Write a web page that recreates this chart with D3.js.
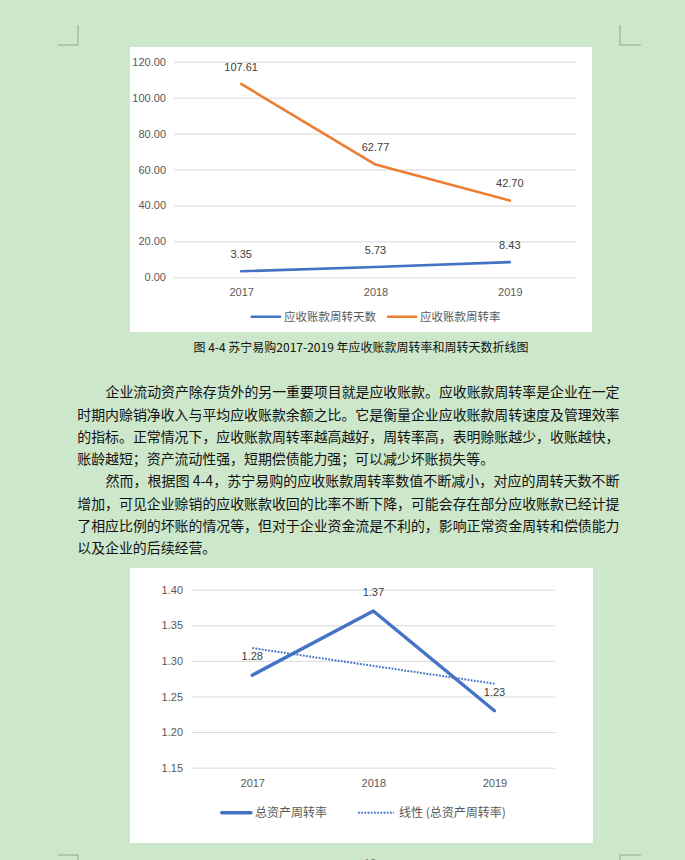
<!DOCTYPE html>
<html>
<head>
<meta charset="utf-8">
<script src="https://cdn.jsdelivr.net/npm/d3@7"></script>
<style>
  html, body { margin: 0; padding: 0; background: #CDE7CB; }
  svg { display: block; }
</style>
</head>
<body>
<svg id="page" width="685" height="860"></svg>
<script>
// ---------- data ----------
const years = ["2017", "2018", "2019"];
const daysValues = [3.35, 5.73, 8.43];          // 应收账款周转天数
const rateValues = [107.61, 62.77, 42.70];      // 应收账款周转率
const yTicks1 = [0, 20, 40, 60, 80, 100, 120];
const seriesNames1 = ["应收账款周转天数", "应收账款周转率"];

const assetValues = [1.28, 1.37, 1.23];          // 总资产周转率
const trendValues = [1.318, 1.293, 1.268];       // 线性 (总资产周转率)
const yTicks2 = [1.15, 1.20, 1.25, 1.30, 1.35, 1.40];
const seriesNames2 = ["总资产周转率", "线性 (总资产周转率)"];

const captionText = "图 4-4 苏宁易购2017-2019 年应收账款周转率和周转天数折线图";
const paragraphLines = [
  {t: "企业流动资产除存货外的另一重要项目就是应收账款。应收账款周转率是企业在一定", indent: true, justify: true},
  {t: "时期内赊销净收入与平均应收账款余额之比。它是衡量企业应收账款周转速度及管理效率", indent: false, justify: true},
  {t: "的指标。正常情况下，应收账款周转率越高越好，周转率高，表明赊账越少，收账越快，", indent: false, justify: true},
  {t: "账龄越短；资产流动性强，短期偿债能力强；可以减少坏账损失等。", indent: false, justify: false},
  {t: "然而，根据图 4-4，苏宁易购的应收账款周转率数值不断减小，对应的周转天数不断", indent: true, justify: true},
  {t: "增加，可见企业赊销的应收账款收回的比率不断下降，可能会存在部分应收账款已经计提", indent: false, justify: true},
  {t: "了相应比例的坏账的情况等，但对于企业资金流是不利的，影响正常资金周转和偿债能力", indent: false, justify: true},
  {t: "以及企业的后续经营。", indent: false, justify: false}
];

// ---------- page ----------
const svg = d3.select("#page");
const FONT_NUM = "'Liberation Sans', 'Noto Sans CJK SC', sans-serif";
const FONT_CJK = "'Noto Sans CJK SC', sans-serif";
const AX_COLOR = "#595959";
const GRID = "#D9D9D9";
const BLUE = "#4472C4";
const ORANGE = "#ED7D31";

svg.append("rect").attr("width", 685).attr("height", 860).attr("fill", "#CDE7CB");

// corner marks
const markColor = "#8FA88C";
const marks = [
  [[58, 45], [78, 45], [78, 25]],
  [[641, 45], [620, 45], [620, 25]],
  [[58, 855], [78, 855], [78, 870]],
  [[641, 855], [620, 855], [620, 870]]
];
marks.forEach(m => svg.append("path").attr("d", d3.line()(m))
  .attr("fill", "none").attr("stroke", markColor).attr("stroke-width", 1));

// ---------- chart 1 ----------
const c1 = svg.append("g");
c1.append("rect").attr("x", 130).attr("y", 47).attr("width", 462).attr("height", 285).attr("fill", "#fff");

const x1 = d3.scalePoint().domain(years).range([174, 577]).padding(0.5);
const y1 = d3.scaleLinear().domain([0, 120]).range([277.3, 61.7]);

const yAx1 = c1.append("g").attr("transform", "translate(174,0)")
  .call(d3.axisLeft(y1).tickValues(yTicks1).tickFormat(d3.format(".2f")).tickSize(-403).tickPadding(8));
yAx1.select(".domain").remove();
yAx1.selectAll("line").attr("stroke", GRID).attr("stroke-width", 1);
yAx1.selectAll("text").attr("fill", AX_COLOR).style("font-family", FONT_NUM).style("font-size", "11px");

const xAx1 = c1.append("g").attr("transform", "translate(0,277.3)")
  .call(d3.axisBottom(x1).tickSize(0).tickPadding(10.6));
xAx1.select(".domain").remove();
xAx1.selectAll("text").attr("fill", AX_COLOR).style("font-family", FONT_NUM).style("font-size", "11px");

const line1 = d3.line().x((d, i) => x1(years[i])).y(d => y1(d));
[[daysValues, BLUE], [rateValues, ORANGE]].forEach(([vals, col]) => {
  c1.append("path").datum(vals).attr("d", line1).attr("fill", "none")
    .attr("stroke", col).attr("stroke-width", 2.6)
    .attr("stroke-linejoin", "round").attr("stroke-linecap", "round");
  c1.selectAll(null).data(vals).enter().append("text")
    .attr("x", (d, i) => x1(years[i])).attr("y", d => y1(d) - 17)
    .attr("dy", "0.35em").attr("text-anchor", "middle")
    .attr("fill", "#404040").style("font-family", FONT_NUM).style("font-size", "11px")
    .text(d => d.toFixed(2));
});

// legend 1
const leg1 = [[251.7, 280, 284, BLUE, seriesNames1[0]], [388, 416, 420, ORANGE, seriesNames1[1]]];
leg1.forEach(([a, b, tx, col, name]) => {
  c1.append("line").attr("x1", a).attr("x2", b).attr("y1", 316.7).attr("y2", 316.7)
    .attr("stroke", col).attr("stroke-width", 2.6).attr("stroke-linecap", "round");
  c1.append("text").attr("x", tx).attr("y", 316.7).attr("dy", "0.36em")
    .attr("fill", AX_COLOR).style("font-family", FONT_CJK).style("font-size", "11.5px").text(name);
});

// caption
svg.append("text").attr("x", 361).attr("y", 351.5).attr("text-anchor", "middle")
  .attr("fill", "#111").style("font-family", FONT_CJK).style("font-size", "12px").text(captionText);

// ---------- paragraph ----------
const pLeft = 77.3, pRight = 619.5, indentW = 28.2, lineY0 = 392, lineGap = 22.3;
paragraphLines.forEach((ln, i) => {
  const x0 = ln.indent ? pLeft + indentW : pLeft;
  const t = svg.append("text").attr("x", x0).attr("y", lineY0 + i * lineGap + 5.2)
    .attr("fill", "#111").style("font-family", FONT_CJK).style("font-size", "13.9px")
    .text(ln.t);
  if (ln.justify) t.attr("textLength", pRight - x0).attr("lengthAdjust", "spacingAndGlyphs");
});

// ---------- chart 2 ----------
const c2 = svg.append("g");
c2.append("rect").attr("x", 130).attr("y", 568).attr("width", 463).attr("height", 275).attr("fill", "#fff");

const x2 = d3.scalePoint().domain(years).range([191.7, 555]).padding(0.5);
const y2 = d3.scaleLinear().domain([1.15, 1.40]).range([767.7, 589.7]);

const yAx2 = c2.append("g").attr("transform", "translate(191.7,0)")
  .call(d3.axisLeft(y2).tickValues(yTicks2).tickFormat(d3.format(".2f")).tickSize(-363.3).tickPadding(8.7));
yAx2.select(".domain").remove();
yAx2.selectAll("line").attr("stroke", GRID).attr("stroke-width", 1);
yAx2.selectAll("text").attr("fill", AX_COLOR).style("font-family", FONT_NUM).style("font-size", "11px");

const xAx2 = c2.append("g").attr("transform", "translate(0,767.7)")
  .call(d3.axisBottom(x2).tickSize(0).tickPadding(11.5));
xAx2.select(".domain").remove();
xAx2.selectAll("text").attr("fill", AX_COLOR).style("font-family", FONT_NUM).style("font-size", "11px");

const line2 = d3.line().x((d, i) => x2(years[i])).y(d => y2(d));
c2.append("path").datum(trendValues).attr("d", line2).attr("fill", "none")
  .attr("stroke", BLUE).attr("stroke-width", 2).attr("stroke-dasharray", "1.8,1.4");
c2.append("path").datum(assetValues).attr("d", line2).attr("fill", "none")
  .attr("stroke", BLUE).attr("stroke-width", 3.4)
  .attr("stroke-linejoin", "round").attr("stroke-linecap", "round");
c2.selectAll(null).data(assetValues).enter().append("text")
  .attr("x", (d, i) => x2(years[i])).attr("y", d => y2(d) - 18.5)
  .attr("dy", "0.35em").attr("text-anchor", "middle")
  .attr("fill", "#404040").style("font-family", FONT_NUM).style("font-size", "11px")
  .text(d => d.toFixed(2));

// legend 2
c2.append("line").attr("x1", 221.7).attr("x2", 251).attr("y1", 812.7).attr("y2", 812.7)
  .attr("stroke", BLUE).attr("stroke-width", 3.4).attr("stroke-linecap", "round");
c2.append("text").attr("x", 255).attr("y", 812.7).attr("dy", "0.36em")
  .attr("fill", AX_COLOR).style("font-family", FONT_CJK).style("font-size", "12px").text(seriesNames2[0]);
c2.append("line").attr("x1", 358).attr("x2", 394).attr("y1", 812.7).attr("y2", 812.7)
  .attr("stroke", BLUE).attr("stroke-width", 2).attr("stroke-dasharray", "1.8,1.4");
c2.append("text").attr("x", 399).attr("y", 812.7).attr("dy", "0.36em")
  .attr("fill", AX_COLOR).style("font-family", FONT_CJK).style("font-size", "12px").text(seriesNames2[1]);

// page number (cut at bottom edge)
svg.append("text").attr("x", 370).attr("y", 867).attr("text-anchor", "middle")
  .attr("fill", "#777").style("font-family", FONT_NUM).style("font-size", "11px").text("12");
</script>
</body>
</html>
